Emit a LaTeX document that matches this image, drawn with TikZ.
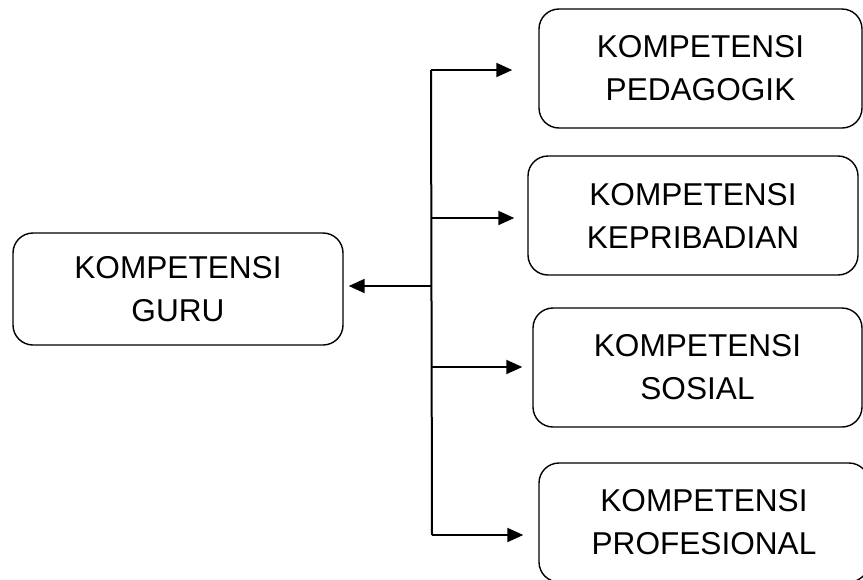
\documentclass[tikz,border=0pt]{standalone}
\usepackage{fontspec}
\setmainfont{Liberation Sans}
\usetikzlibrary{
  arrows.meta,
  calc,
  positioning,
  shapes,
}
\tikzset{
  >={Triangle[length=16pt,width=14pt]},
  kbox/.style={draw, line width=1.4pt, rounded corners=20pt,
    align=center, inner sep=0pt,
    font=\fontsize{31.6}{43}\selectfont},
  arr/.style={->, line width=2pt},
}

\begin{document}
\begin{tikzpicture}[x=1pt,y=-1pt]
      \useasboundingbox (0,0) rectangle (863,579);
      \clip (0,0) rectangle (863,579);
      % boxes
      \node[kbox, minimum width=330pt, minimum height=112pt] (guru) at (178,289) {KOMPETENSI\\GURU};
      \node[kbox, minimum width=323pt, minimum height=119pt] (ped) at (700.5,68.5) {KOMPETENSI\\PEDAGOGIK};
      \node[kbox, minimum width=330pt, minimum height=119pt] (kep) at (693,215.5) {KOMPETENSI\\KEPRIBADIAN};
      \node[kbox, minimum width=329pt, minimum height=119pt] (sos) at (697.5,367.5) {KOMPETENSI\\SOSIAL};
      \node[kbox, minimum width=330pt, minimum height=119pt] (pro) at (704,522.5) {KOMPETENSI\\PROFESIONAL};
      % trunk
      \coordinate (top) at (431,70);
      \coordinate (bot) at (432,535);
      \draw[line width=2pt] (top) -- (bot);
      \coordinate (mid) at (432,286);
      \coordinate (j2) at (431.5,218);
      \coordinate (j3) at (432,367);
      % arrows
      \draw[arr, shorten >=5pt] (mid) -- (mid -| guru.east);
      \draw[arr, shorten >=26pt] (top) -- (top -| ped.west);
      \draw[arr, shorten >=13pt] (j2) -- (j2 -| kep.west);
      \draw[arr, shorten >=10pt] (j3) -- (j3 -| sos.west);
      \draw[arr, shorten >=15pt] (bot) -- (bot -| pro.west);
    \end{tikzpicture}
\end{document}
